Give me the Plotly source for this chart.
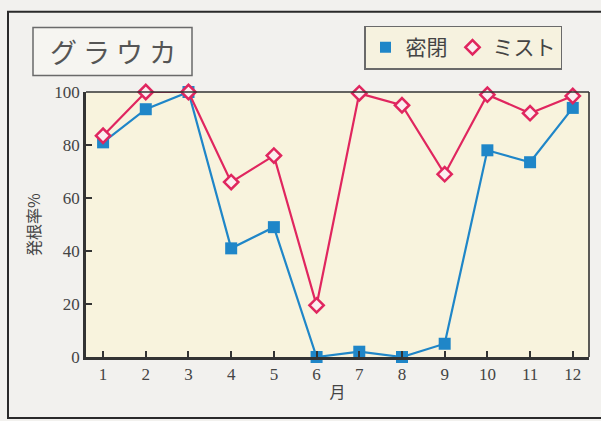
import plotly.graph_objects as go

months = [1, 2, 3, 4, 5, 6, 7, 8, 9, 10, 11, 12]
closed = [81, 93.5, 100, 41, 49, 0, 2, 0, 5, 78, 73.5, 94]
mist = [83.5, 100, 100, 66, 76, 19.5, 99.5, 95, 69, 99, 92, 98.5]
x_ticks = [str(m) for m in months]
y_ticks = [0, 20, 40, 60, 80, 100]

BLUE = "#1f86c8"
RED = "#e0265f"
SERIF = "Liberation Serif, Times New Roman, serif"
CJK = "Noto Sans CJK JP, sans-serif"

fig = go.Figure()
fig.add_trace(go.Scatter(
    x=months, y=closed, mode="lines+markers", name="密閉", showlegend=False,
    line=dict(color=BLUE, width=2.2),
    marker=dict(symbol="square", size=12, color=BLUE), cliponaxis=False))
fig.add_trace(go.Scatter(
    x=months, y=mist, mode="lines+markers", name="ミスト", showlegend=False,
    line=dict(color=RED, width=2.2),
    marker=dict(symbol="diamond", size=11, color="#fbeef0", line=dict(color=RED, width=2.5)),
    cliponaxis=False))
# legend-only entries (marker only, as in the reference key)
fig.add_trace(go.Scatter(x=[None], y=[None], mode="markers", name="密閉",
                         marker=dict(symbol="square", size=11, color=BLUE)))
fig.add_trace(go.Scatter(x=[None], y=[None], mode="markers", name="ミスト",
                         marker=dict(symbol="diamond", size=11, color="#fbeef0",
                                     line=dict(color=RED, width=2.5))))

L, R, T, B = 86, 589, 91.5, 357
def px(xp):
    return (xp - L) / (R - L)
def py(yp):
    return (B - yp) / (B - T)

shapes = [
    dict(type="rect", xref="paper", yref="paper", x0=px(8), x1=px(640), y0=py(418), y1=py(11),
         line=dict(color="#2a2a2a", width=2), fillcolor="rgba(0,0,0,0)", layer="below"),
    dict(type="rect", xref="paper", yref="paper", x0=px(33), x1=px(192), y0=py(75), y1=py(27),
         line=dict(color="#6a6a6a", width=1.5), fillcolor="#f6f5f1", layer="below"),
    # thinner top and right frame lines of the plot area
    dict(type="line", xref="paper", yref="paper", x0=0, x1=1, y0=1, y1=1,
         line=dict(color="#333", width=1.6)),
    dict(type="line", xref="paper", yref="paper", x0=1, x1=1, y0=0, y1=1,
         line=dict(color="#333", width=1.6)),
]

fig.update_layout(
    width=601, height=421,
    margin=dict(l=L, r=601 - R, t=T, b=421 - B, autoexpand=False),
    paper_bgcolor="#f2f1ee", plot_bgcolor="#f8f3dd",
    shapes=shapes,
    legend=dict(orientation="h", x=px(364), y=py(25), xanchor="left", yanchor="top",
                bgcolor="#f6f2df", bordercolor="#6a6a6a", borderwidth=1.5,
                font=dict(family=CJK, size=21, color="#444"),
                itemwidth=30, tracegroupgap=0),
    annotations=[
        dict(text="グ ラ ウ カ", xref="paper", yref="paper", x=px(113), y=py(51),
             xanchor="center", yanchor="middle",
             showarrow=False, font=dict(family=CJK, size=27, color="#555")),
    ],
    xaxis=dict(range=[0.6, 12.38], tickvals=months, ticktext=x_ticks,
               ticks="inside", ticklen=6, tickwidth=2, tickcolor="#333",
               showgrid=False, zeroline=False, showline=True, linecolor="#333", linewidth=2.5,
               tickfont=dict(family=SERIF, size=17, color="#444"),
               title=dict(text="月", font=dict(family=CJK, size=16, color="#444"), standoff=4)),
    yaxis=dict(range=[0, 100], tickvals=y_ticks,
               ticks="inside", ticklen=6, tickwidth=2, tickcolor="#333",
               showgrid=False, zeroline=False, showline=True, linecolor="#333", linewidth=2.5,
               tickfont=dict(family=SERIF, size=17, color="#444"),
               title=dict(text="発根率%", font=dict(family=CJK, size=16, color="#444"), standoff=10)),
)

fig.write_html("out.html", config={"displayModeBar": False},
               post_script="document.body.style.margin='0';document.body.style.background='#f2f1ee';")
